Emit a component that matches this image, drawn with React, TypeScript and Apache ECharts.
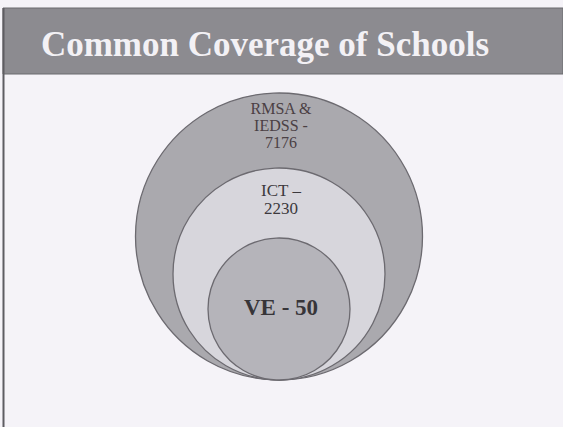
import React, { useEffect, useRef } from "react";
import * as echarts from "echarts";

const titleText = "Common Coverage of Schools";
const circleNames = ["RMSA &\nIEDSS -\n7176", "ICT –\n2230", "VE - 50"];
const schoolCounts = [7176, 2230, 50];
// relative circle radii (diagram units), all circles tangent at the bottom
const circleRadii = [143.5, 106, 71];
const circleFills = ["#aaa9ae", "#d7d6dc", "#b5b4ba"];
const labelFonts = [
  { size: 16, weight: "normal", color: "#4a4044", dy: 32, lh: 17 },
  { size: 17, weight: "normal", color: "#3c393d", dy: 31, lh: 18 },
  { size: 23, weight: "bold", color: "#373539", dy: -2, lh: 24 },
];

export default function App() {
  const ref = useRef<HTMLDivElement>(null);
  useEffect(() => {
    if (!ref.current) return;
    const chart = echarts.init(ref.current, null, { renderer: "svg" });
    const data = circleRadii.map((r, i) => ({
      value: [0, r, r, i],
      name: circleNames[i],
      count: schoolCounts[i],
    }));
    chart.setOption({
      animation: false,
      backgroundColor: "#f5f3f8",
      grid: { left: 129, width: 300, bottom: 47, height: 300 },
      xAxis: { type: "value", min: -150, max: 150, show: false },
      yAxis: { type: "value", min: 0, max: 300, show: false },
      graphic: [
        {
          type: "rect",
          shape: { x: 3, y: 8, width: 560, height: 66 },
          style: { fill: "#8c8b90", stroke: "#6b6a6f", lineWidth: 1 },
        },
        {
          type: "line",
          shape: { x1: 3.5, y1: 8, x2: 3.5, y2: 427 },
          style: { stroke: "#5e5d62", lineWidth: 2 },
        },
        {
          type: "text",
          x: 265,
          y: 44,
          style: {
            text: titleText,
            fill: "#f3f1f5",
            font: "bold 35px 'Liberation Serif', 'DejaVu Serif', serif",
            textAlign: "center",
            textVerticalAlign: "middle",
          },
        },
      ],
      series: [
        {
          type: "custom",
          coordinateSystem: "cartesian2d",
          data,
          renderItem: (params: any, api: any) => {
            const i = api.value(3);
            const r = api.value(2);
            const c = api.coord([api.value(0), api.value(1)]);
            const rp = api.size([r, r])[0];
            const f = labelFonts[i];
            const ty = i === 2 ? c[1] + f.dy : c[1] - rp + f.dy;
            return {
              type: "group",
              children: [
                {
                  type: "circle",
                  shape: { cx: c[0], cy: c[1], r: rp },
                  style: { fill: circleFills[i], stroke: "#6c6a70", lineWidth: 1.3 },
                },
                {
                  type: "text",
                  x: c[0] + 2,
                  y: ty,
                  style: {
                    text: circleNames[i],
                    fill: f.color,
                    font: `${f.weight} ${f.size}px 'Liberation Serif', 'DejaVu Serif', serif`,
                    lineHeight: f.lh,
                    textAlign: "center",
                    textVerticalAlign: "middle",
                  },
                },
              ],
            };
          },
        },
      ],
    });
    return () => chart.dispose();
  }, []);
  return (
    <div
      ref={ref}
      style={{ position: "fixed", left: 0, top: 0, width: 563, height: 427 }}
    />
  );
}
